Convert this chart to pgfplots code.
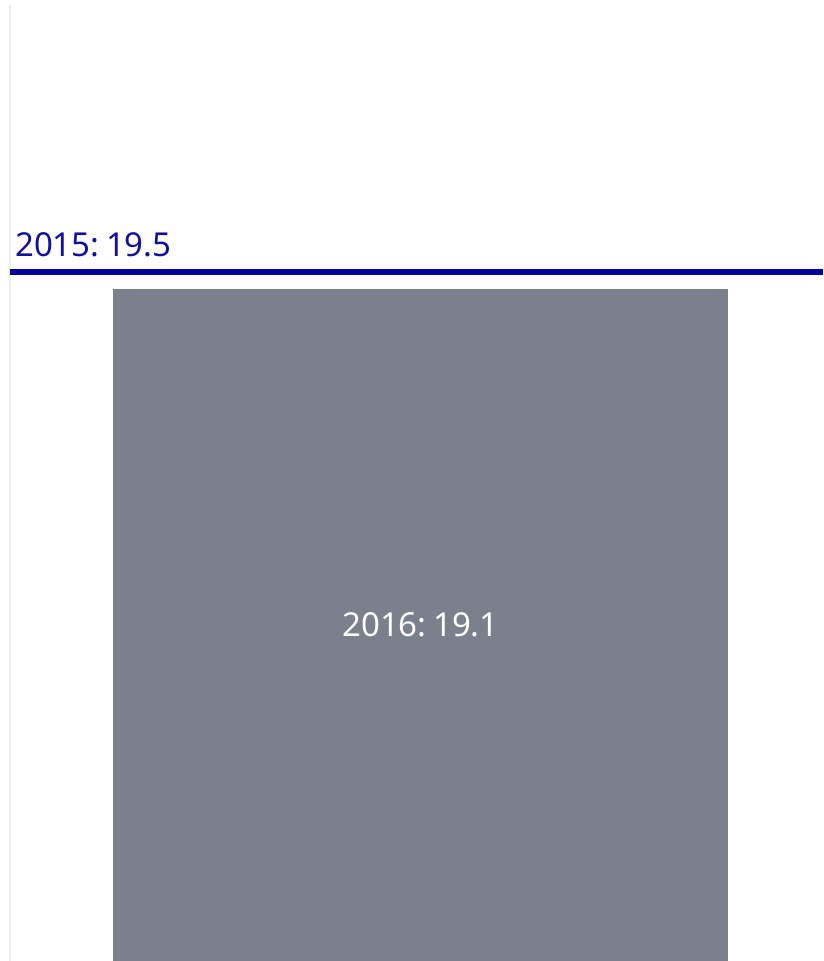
\documentclass[border=0pt]{standalone}
\usepackage{fontspec}
\setmainfont{Noto Sans}
\usepackage{pgfplots}
\pgfplotsset{compat=1.18}
\definecolor{bargray}{HTML}{7A808C}
\definecolor{lineblue}{HTML}{0000A0}
\definecolor{labelblue}{HTML}{1010A0}
\definecolor{faint}{HTML}{EEEEEE}
\begin{document}
\begin{tikzpicture}
\begin{axis}[
  scale only axis,
  width=823pt, height=961pt,
  xmin=-0.6837, xmax=0.6545,
  ymin=3.287, ymax=25.9,
  axis line style={draw=none},
  ticks=none,
  clip=true,
]
% faint left rule
\addplot[draw=faint, line width=1.2pt] coordinates {(-0.6675,3.287) (-0.6675,25.78)};
% 2016 bar
\addplot[ybar, bar width=1, fill=bargray, draw=none] coordinates {(0,19.1)};
% 2015 reference line
\addplot[draw=lineblue, line width=6.5pt] coordinates {(-0.6675,19.5) (0.6545,19.5)};
\node[anchor=base west, text=labelblue, font=\fontsize{33}{39}\selectfont, inner sep=0pt]
  at (axis cs:-0.6594,19.853) {2015:\hspace{0.2em}19.5};
\node[anchor=center, text=white, font=\fontsize{33}{39}\selectfont, inner sep=0pt]
  at (axis cs:0,11.2) {2016:\hspace{0.2em}19.1};
\end{axis}
\end{tikzpicture}
\end{document}
